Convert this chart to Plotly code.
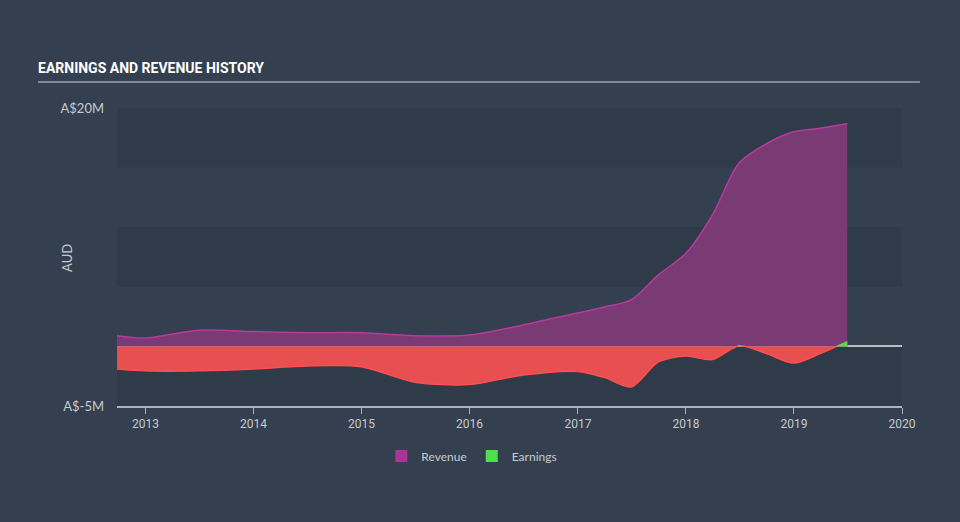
import numpy as np
import pandas as pd
import plotly.graph_objects as go

dates = ["2012-09-27", "2012-12-31", "2013-06-30", "2013-12-31", "2014-06-30",
         "2014-12-31", "2015-06-30", "2015-12-31", "2016-06-30", "2016-12-31",
         "2017-03-31", "2017-06-30", "2017-09-30", "2017-12-31", "2018-03-31",
         "2018-06-30", "2018-09-30", "2018-12-31", "2019-03-31", "2019-06-30"]
revenue = [0.9, 0.7, 1.35, 1.25, 1.15, 1.15, 0.9, 0.95, 1.8, 2.8,
           3.3, 3.9, 6.0, 7.8, 11.0, 15.4, 17.0, 18.0, 18.3, 18.7]
earnings = [-1.9, -2.05, -2.05, -1.9, -1.65, -1.7, -3.0, -3.2, -2.4, -2.1,
            -2.6, -3.4, -1.3, -0.8, -1.1, 0.05, -0.6, -1.4, -0.6, 0.4]

y_tickvals = [-5, 20]
y_ticktext = ["A$-5M", "A$20M"]
x_tickvals = ["2013-01-01", "2014-01-01", "2015-01-01", "2016-01-01",
              "2017-01-01", "2018-01-01", "2019-01-01", "2020-01-01"]
x_ticktext = ["2013", "2014", "2015", "2016", "2017", "2018", "2019", "2020"]

BG = "#34404f"
BAND = "#2f3b49"
TXT = "#c5cad0"

# positive segments of earnings (with zero crossings) for green fill
d = pd.to_datetime(dates)
t = d.astype("int64").to_numpy().astype(float)
e = np.array(earnings)
segs = []
cur = None
for i in range(len(e)):
    if i > 0 and (e[i - 1] < 0) != (e[i] < 0):
        tc = t[i - 1] + (t[i] - t[i - 1]) * (-e[i - 1]) / (e[i] - e[i - 1])
        xc = pd.Timestamp(int(tc))
        if e[i] >= 0:
            cur = [[xc], [0.0]]
        else:
            cur[0].append(xc)
            cur[1].append(0.0)
            segs.append(cur)
            cur = None
    if e[i] >= 0 and cur is not None:
        cur[0].append(d[i])
        cur[1].append(e[i])
if cur is not None:
    segs.append(cur)

fig = go.Figure()
fig.add_trace(go.Scatter(x=dates, y=revenue, mode="lines", fill="tozeroy",
                         line=dict(color="#b8399f", width=1.5, shape="spline", smoothing=0.8),
                         fillcolor="#7a3a74", showlegend=False, hoverinfo="skip"))
fig.add_trace(go.Scatter(x=dates, y=earnings, mode="lines", fill="tozeroy",
                         line=dict(color="#ff4f4f", width=1.5, shape="spline", smoothing=0.8),
                         fillcolor="#e84f50", showlegend=False, hoverinfo="skip"))
for sx, sy in segs:
    fig.add_trace(go.Scatter(x=sx, y=sy, mode="lines", fill="tozeroy",
                             line=dict(color="#4fe04f", width=1),
                             fillcolor="#4fe04f", showlegend=False, hoverinfo="skip"))
# legend entries
fig.add_trace(go.Scatter(x=[None], y=[None], mode="markers", name="Revenue",
                         marker=dict(symbol="square", size=14, color="#a8369a")))
fig.add_trace(go.Scatter(x=[None], y=[None], mode="markers", name="Earnings",
                         marker=dict(symbol="square", size=14, color="#4fe04f")))

shapes = []
for y0, y1 in [(15, 20), (5, 10), (-5, 0)]:
    shapes.append(dict(type="rect", xref="paper", x0=0, x1=1, yref="y", y0=y0, y1=y1,
                       fillcolor=BAND, line=dict(width=0), layer="below"))
shapes.append(dict(type="line", xref="paper", x0=-0.1006, x1=1.0229, yref="paper",
                   y0=1.0872, y1=1.0872, line=dict(color="#9aa3ad", width=1.5)))

fig.update_layout(
    width=960, height=522,
    paper_bgcolor=BG, plot_bgcolor="rgba(0,0,0,0)",
    margin=dict(l=117, r=58, t=108, b=116),
    shapes=shapes,
    title=dict(text="<b>EARNINGS AND REVENUE HISTORY</b>", x=38 / 960, xanchor="left",
               xref="container", y=1 - 68 / 522, yanchor="middle", yref="container",
               font=dict(family="Roboto", size=14, color="#ffffff")),
    xaxis=dict(range=["2012-09-27", "2020-01-01"], tickvals=x_tickvals, ticktext=x_ticktext,
               showgrid=False, zeroline=False, showline=True, linecolor="#aab3bd", linewidth=1.5,
               ticks="outside", ticklen=6, tickcolor="#aab3bd",
               tickfont=dict(family="Roboto", size=12, color=TXT)),
    yaxis=dict(range=[-5, 20], tickvals=y_tickvals, ticktext=y_ticktext, showgrid=False,
               zeroline=True, zerolinecolor="#b8bec5", zerolinewidth=1.5,
               showline=False, ticks="", ticklabelstandoff=12,
               tickfont=dict(family="Lato", size=13, color=TXT)),
    legend=dict(orientation="h", x=0.452, xanchor="center", y=-0.168, yanchor="middle",
                font=dict(family="Lato", size=12, color=TXT), bgcolor="rgba(0,0,0,0)",
                itemsizing="constant"),
    annotations=[dict(text="AUD", textangle=-90, xref="paper", yref="paper", x=-0.0637, y=0.497,
                      xanchor="center", yanchor="middle", showarrow=False,
                      font=dict(family="Lato", size=13, color=TXT))],
)

fig.write_html("out.html")
